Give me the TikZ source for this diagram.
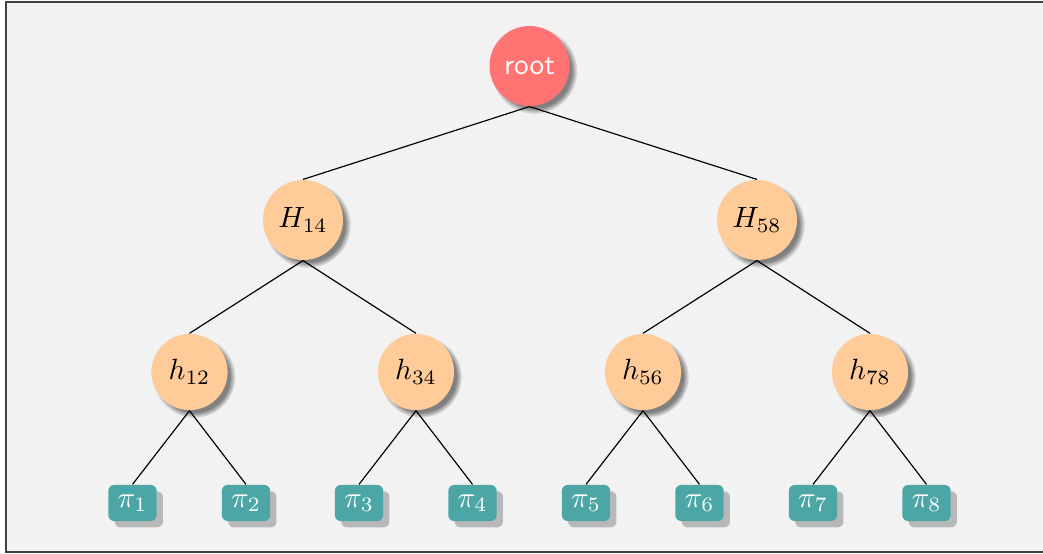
\documentclass[tikz,border=0pt]{standalone}
\usepackage{amsmath, amsfonts}
\usepackage{tikz}
\usetikzlibrary{shadows}

\begin{document}
\begin{tikzpicture}[x=0.3413pt, y=-0.3413pt,
    rootnode/.style={circle, fill=red!55, text=white, font=\sffamily, minimum size=27.3pt, inner sep=0pt, circular drop shadow={shadow scale=1.08, shadow xshift=.35ex, shadow yshift=-.35ex}},
    bignode/.style={circle, fill=orange!40, minimum size=27.3pt, inner sep=0pt, circular drop shadow={shadow scale=1.08, shadow xshift=.35ex, shadow yshift=-.35ex}},
    smallnode/.style={circle, fill=orange!40, minimum size=26pt, inner sep=0pt, circular drop shadow={shadow scale=1.08, shadow xshift=.35ex, shadow yshift=-.35ex}},
    leafnode/.style={rectangle, rounded corners=2pt, fill=teal!70, text=white, minimum width=16.5pt, minimum height=12.3pt, inner sep=0pt, drop shadow}]
        \clip (0,0) rectangle (1043,554);
        \draw[black!75, line width=0.7pt, fill=black!5] (6,2) rectangle (1060,552);
        % levels
        \node (root) at (529.5,66) [rootnode] {root};
        \node (H14) at (303,220) [bignode] {$H_{14}$};
        \node (H58) at (757,220) [bignode] {$H_{58}$};
        \node (h12) at (189.5,372) [smallnode] {$h_{12}$};
        \node (h34) at (416,372) [smallnode] {$h_{34}$};
        \node (h56) at (643,372) [smallnode] {$h_{56}$};
        \node (h78) at (870,372) [smallnode] {$h_{78}$};
        \node (p1) at (132.5,503) [leafnode] {$\pi_1$};
        \node (p2) at (246,503) [leafnode] {$\pi_2$};
        \node (p3) at (359,503) [leafnode] {$\pi_3$};
        \node (p4) at (472.5,503) [leafnode] {$\pi_4$};
        \node (p5) at (586,503) [leafnode] {$\pi_5$};
        \node (p6) at (699.5,503) [leafnode] {$\pi_6$};
        \node (p7) at (813,503) [leafnode] {$\pi_7$};
        \node (p8) at (926.5,503) [leafnode] {$\pi_8$};
        % edges
        \draw (root.south)--(H14.north);
        \draw (root.south)--(H58.north);
        \draw (H14.south)--(h12.north);
        \draw (H14.south)--(h34.north);
        \draw (H58.south)--(h56.north);
        \draw (H58.south)--(h78.north);
        \draw (h12.south)--(p1.north);
        \draw (h12.south)--(p2.north);
        \draw (h34.south)--(p3.north);
        \draw (h34.south)--(p4.north);
        \draw (h56.south)--(p5.north);
        \draw (h56.south)--(p6.north);
        \draw (h78.south)--(p7.north);
        \draw (h78.south)--(p8.north);

    \end{tikzpicture}
\end{document}
